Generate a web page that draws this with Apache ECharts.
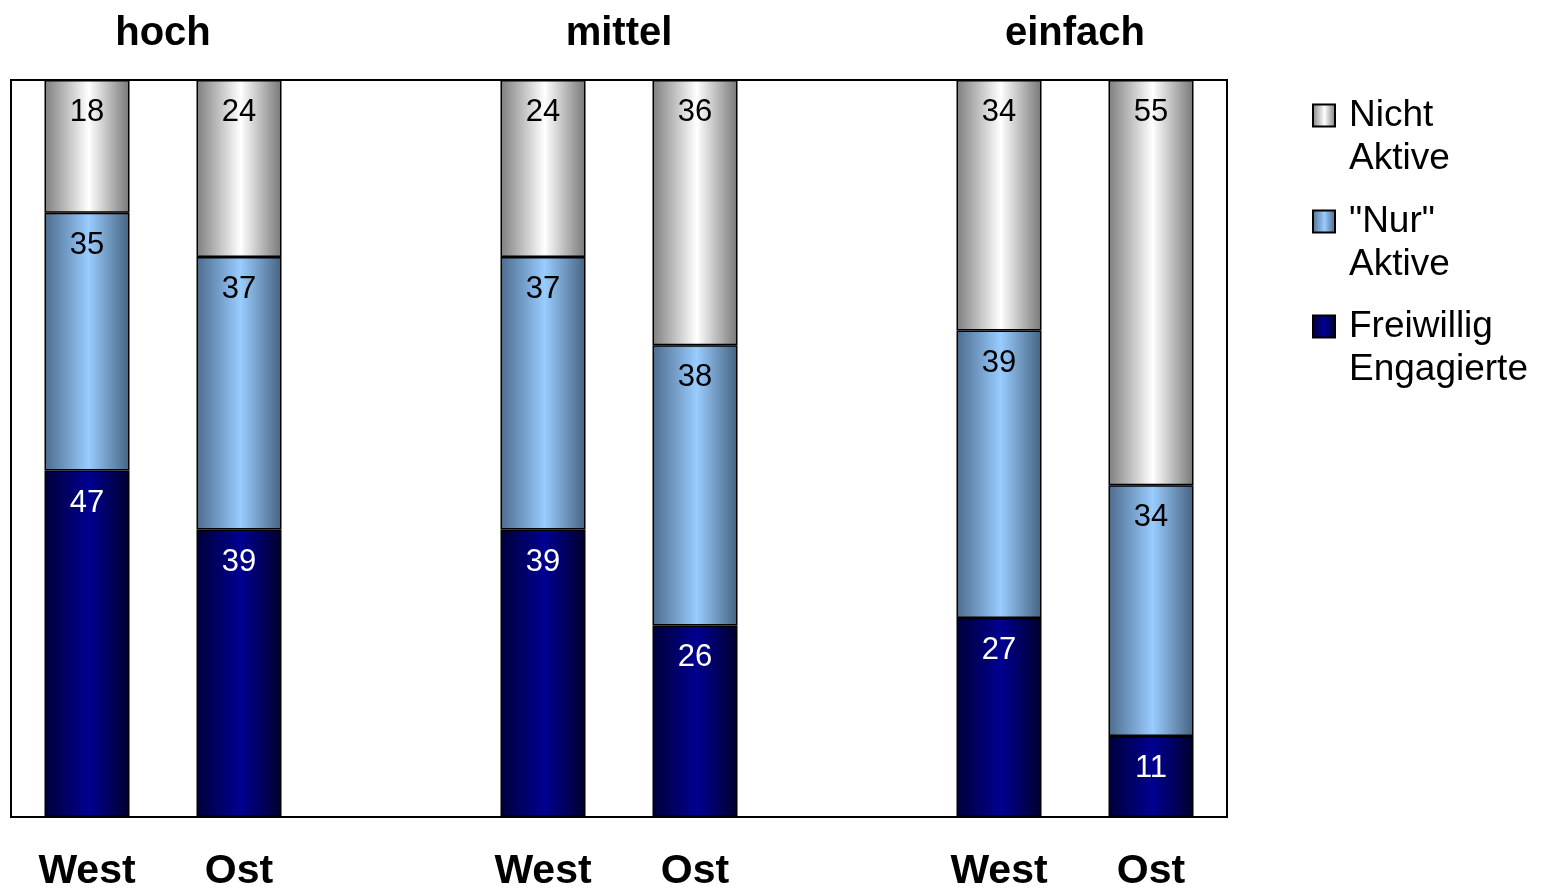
<!DOCTYPE html>
<html>
<head>
<meta charset="utf-8">
<script src="https://cdn.jsdelivr.net/npm/echarts@6/dist/echarts.min.js"></script>
<style>
  html, body { margin: 0; padding: 0; background: #fff; }
  #chart { width: 1543px; height: 890px; }
</style>
</head>
<body>
<div id="chart"></div>
<script>
// Kategorien (leere Plätze trennen die Gruppen)
var categories = ['West', 'Ost', '', 'West', 'Ost', '', 'West', 'Ost'];
var groupLabels = ['', 'hoch', '', '', 'mittel', '', '', 'einfach', ''];

var freiwillig = [47, 39, null, 39, 26, null, 27, 11];
var nurAktive = [35, 37, null, 37, 38, null, 39, 34];
var nichtAktive = [18, 24, null, 24, 36, null, 34, 55];

var FONT = '"Liberation Sans", Arial, sans-serif';

function grad(edge, mid, edge2) {
  return new echarts.graphic.LinearGradient(0, 0, 1, 0, [
    { offset: 0, color: edge },
    { offset: 0.52, color: mid },
    { offset: 1, color: edge2 }
  ]);
}

var chart = echarts.init(document.getElementById('chart'));

var labelBase = {
  show: true,
  position: 'insideTop',
  distance: 17,
  fontSize: 31,
  fontFamily: FONT
};

function legendFmt(name) {
  var parts = name.split(' ');
  return ' \n' + parts[0] + '\n' + parts[1];
}

function legendAt(name, top) {
  return {
    data: [{ name: name, icon: 'rect' }],
    orient: 'vertical',
    left: 1307,
    top: top,
    itemWidth: 22,
    itemHeight: 22,
    itemGap: 0,
    formatter: legendFmt,
    textStyle: {
      fontSize: 37,
      lineHeight: 43,
      color: '#000',
      fontFamily: FONT,
      padding: [0, 0, 0, 9]
    }
  };
}

var option = {
  animation: false,
  backgroundColor: '#fff',
  grid: {
    show: true,
    left: 11,
    top: 80,
    width: 1216,
    height: 737,
    outerBoundsMode: 'none',
    borderColor: '#000',
    borderWidth: 2,
    backgroundColor: '#fff'
  },
  legend: [
    legendAt('Nicht Aktive', 46),
    legendAt('"Nur" Aktive', 152),
    legendAt('Freiwillig Engagierte', 257)
  ],
  xAxis: [
    {
      type: 'category',
      data: categories,
      axisLine: { show: false },
      axisTick: { show: false },
      axisLabel: {
        interval: 0,
        margin: 34,
        fontSize: 41,
        fontWeight: 'bold',
        color: '#000',
        fontFamily: FONT
      }
    },
    {
      type: 'category',
      position: 'top',
      boundaryGap: false,
      data: groupLabels,
      axisLine: { show: false },
      axisTick: { show: false },
      axisLabel: {
        interval: 0,
        margin: 26,
        fontSize: 40,
        fontWeight: 'bold',
        color: '#000',
        fontFamily: FONT
      }
    }
  ],
  yAxis: {
    type: 'value',
    min: 0,
    max: 100,
    show: false,
    splitLine: { show: false }
  },
  series: [
    {
      name: 'Freiwillig Engagierte',
      type: 'bar',
      stack: 'a',
      barWidth: 85,
      data: freiwillig,
      itemStyle: {
        color: grad('#000038', '#000092', '#00002c'),
        borderColor: '#000',
        borderWidth: 1.5
      },
      label: Object.assign({ color: '#fff' }, labelBase)
    },
    {
      name: '"Nur" Aktive',
      type: 'bar',
      stack: 'a',
      barWidth: 85,
      data: nurAktive,
      itemStyle: {
        color: grad('#4d6b8c', '#99ccff', '#466380'),
        borderColor: '#000',
        borderWidth: 1.5
      },
      label: Object.assign({ color: '#000' }, labelBase)
    },
    {
      name: 'Nicht Aktive',
      type: 'bar',
      stack: 'a',
      barWidth: 85,
      data: nichtAktive,
      itemStyle: {
        color: grad('#7f7f7f', '#ffffff', '#777777'),
        borderColor: '#000',
        borderWidth: 1.5
      },
      label: Object.assign({ color: '#000' }, labelBase)
    }
  ]
};

chart.setOption(option);
</script>
</body>
</html>
